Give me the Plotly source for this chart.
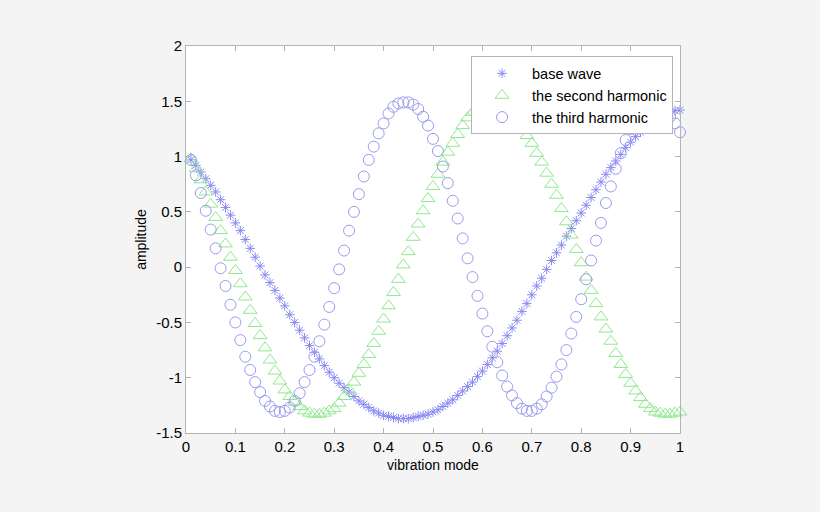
import plotly.graph_objects as go

x_vals = [round(0.01 * i, 2) for i in range(1, 101)]

base_wave = [
    0.97, 0.92, 0.86, 0.80, 0.74, 0.68, 0.61, 0.54, 0.47, 0.40,
    0.33, 0.25, 0.17, 0.09, 0.01, -0.07, -0.14, -0.21, -0.28, -0.35,
    -0.43, -0.50, -0.57, -0.64, -0.71, -0.77, -0.83, -0.89, -0.95, -1.00,
    -1.05, -1.09, -1.13, -1.17, -1.21, -1.24, -1.27, -1.30, -1.32, -1.34,
    -1.35, -1.36, -1.37, -1.37, -1.37, -1.36, -1.35, -1.34, -1.33, -1.31,
    -1.29, -1.26, -1.23, -1.20, -1.16, -1.12, -1.08, -1.04, -0.99, -0.94,
    -0.88, -0.82, -0.76, -0.69, -0.62, -0.55, -0.48, -0.40, -0.33, -0.25,
    -0.17, -0.10, -0.02, 0.06, 0.13, 0.20, 0.28, 0.35, 0.42, 0.49,
    0.56, 0.63, 0.70, 0.77, 0.84, 0.90, 0.96, 1.02, 1.08, 1.13,
    1.18, 1.22, 1.26, 1.30, 1.34, 1.37, 1.39, 1.405, 1.415, 1.42,
]

second_harmonic = [
    0.98, 0.89, 0.79, 0.68, 0.57, 0.45, 0.33, 0.21, 0.09, -0.03,
    -0.15, -0.27, -0.39, -0.51, -0.62, -0.73, -0.84, -0.94, -1.03, -1.11,
    -1.17, -1.22, -1.26, -1.30, -1.32, -1.33, -1.33, -1.32, -1.30, -1.28,
    -1.23, -1.17, -1.11, -1.04, -0.96, -0.88, -0.79, -0.69, -0.58, -0.47,
    -0.35, -0.23, -0.11, 0.02, 0.14, 0.27, 0.39, 0.51, 0.62, 0.73,
    0.84, 0.95, 1.04, 1.12, 1.20, 1.28, 1.35, 1.40, 1.44, 1.47,
    1.49, 1.50, 1.50, 1.48, 1.45, 1.40, 1.34, 1.27, 1.19, 1.12,
    1.03, 0.95, 0.85, 0.75, 0.65, 0.53, 0.41, 0.29, 0.16, 0.04,
    -0.09, -0.21, -0.33, -0.45, -0.56, -0.67, -0.78, -0.88, -0.97, -1.05,
    -1.12, -1.18, -1.24, -1.28, -1.31, -1.32, -1.33, -1.33, -1.32, -1.31,
]

third_harmonic = [
    0.97, 0.83, 0.67, 0.51, 0.34, 0.17, -0.01, -0.17, -0.34, -0.50,
    -0.66, -0.81, -0.93, -1.04, -1.13, -1.21, -1.26, -1.30, -1.31, -1.30,
    -1.27, -1.21, -1.14, -1.04, -0.93, -0.81, -0.67, -0.52, -0.36, -0.19,
    -0.02, 0.15, 0.33, 0.50, 0.66, 0.82, 0.97, 1.09, 1.21, 1.30,
    1.39, 1.45, 1.48, 1.49, 1.49, 1.47, 1.43, 1.36, 1.28, 1.16,
    1.05, 0.91, 0.76, 0.60, 0.44, 0.26, 0.08, -0.09, -0.26, -0.42,
    -0.58, -0.72, -0.86, -0.98, -1.08, -1.16, -1.23, -1.28, -1.30, -1.30,
    -1.28, -1.24, -1.17, -1.09, -0.99, -0.88, -0.75, -0.60, -0.45, -0.29,
    -0.11, 0.06, 0.24, 0.40, 0.58, 0.73, 0.89, 1.03, 1.15, 1.25,
    1.32, 1.37, 1.41, 1.43, 1.44, 1.43, 1.40, 1.36, 1.30, 1.22,
]

series_names = ["base wave", "the second harmonic", "the third harmonic"]
x_ticks = [0, 0.1, 0.2, 0.3, 0.4, 0.5, 0.6, 0.7, 0.8, 0.9, 1]
x_tick_labels = ["0", "0.1", "0.2", "0.3", "0.4", "0.5", "0.6", "0.7", "0.8", "0.9", "1"]
y_ticks = [-1.5, -1, -0.5, 0, 0.5, 1, 1.5, 2]
y_tick_labels = ["-1.5", "-1", "-0.5", "0", "0.5", "1", "1.5", "2"]

FONT = "Liberation Sans, Arial, sans-serif"

fig = go.Figure()
fig.add_trace(go.Scatter(
    x=x_vals, y=base_wave, mode="markers", name=series_names[0],
    cliponaxis=False,
    marker=dict(symbol="asterisk-open", size=8, color="#8888f4",
                line=dict(color="#8888f4", width=1)),
))
fig.add_trace(go.Scatter(
    x=x_vals, y=second_harmonic, mode="markers", name=series_names[1],
    cliponaxis=False,
    marker=dict(symbol="triangle-up-open", size=12, color="#8fe88f",
                line=dict(color="#8fe88f", width=1)),
))
fig.add_trace(go.Scatter(
    x=x_vals, y=third_harmonic, mode="markers", name=series_names[2],
    cliponaxis=False,
    marker=dict(symbol="circle-open", size=11, color="#9a9af0",
                line=dict(color="#9a9af0", width=1)),
))

axis_common = dict(
    showgrid=False, zeroline=False, showline=True, linecolor="#b4b4b4",
    linewidth=1, mirror="ticks", ticks="inside", ticklen=5, tickcolor="#b4b4b4",
    tickfont=dict(family=FONT, size=15, color="#000000"),
)

fig.update_layout(
    width=820, height=512,
    paper_bgcolor="#f4f4f4", plot_bgcolor="#ffffff",
    margin=dict(l=186, r=140, t=46, b=79),
    font=dict(family=FONT, size=14, color="#000000"),
    xaxis=dict(range=[0, 1], tickvals=x_ticks, ticktext=x_tick_labels,
               title=dict(text="vibration mode", font=dict(family=FONT, size=14), standoff=6),
               **axis_common),
    yaxis=dict(range=[-1.5, 2], tickvals=y_ticks, ticktext=y_tick_labels,
               title=dict(text="amplitude", font=dict(family=FONT, size=14), standoff=6),
               **axis_common),
    legend=dict(x=0.577, y=0.973, xanchor="left", yanchor="top",
                bgcolor="#ffffff", bordercolor="#b4b4b4", borderwidth=1,
                font=dict(family=FONT, size=14.5, color="#000000"),
                itemwidth=50),
    showlegend=True,
)

fig.write_html("out.html")
